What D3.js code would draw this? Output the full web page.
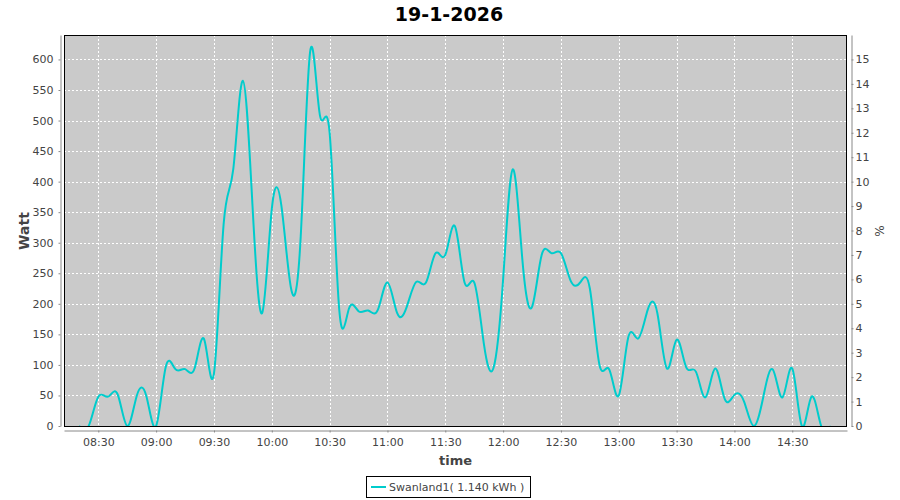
<!DOCTYPE html>
<html>
<head>
<meta charset="utf-8">
<script src="https://cdn.jsdelivr.net/npm/d3@7/dist/d3.min.js"></script>
<style>
  html, body { margin: 0; padding: 0; background: #ffffff; }
  svg { display: block; }
  text { font-family: "DejaVu Sans", sans-serif; }
</style>
</head>
<body>
<svg id="chart" width="900" height="500"></svg>
<script>
// ---- data ----
const chartTitle = "19-1-2026";
const seriesName = "Swanland1( 1.140 kWh )";
const times = ["08:20","08:25","08:30","08:35","08:40","08:45","08:50","08:55",
  "09:00","09:05","09:10","09:15","09:20","09:25","09:30","09:35","09:40","09:45","09:50","09:55",
  "10:00","10:05","10:10","10:15","10:20","10:25","10:30","10:35","10:40","10:45","10:50","10:55",
  "11:00","11:05","11:10","11:15","11:20","11:25","11:30","11:35","11:40","11:45","11:50","11:55",
  "12:00","12:05","12:10","12:15","12:20","12:25","12:30","12:35","12:40","12:45","12:50","12:55",
  "13:00","13:05","13:10","13:15","13:20","13:25","13:30","13:35","13:40","13:45","13:50","13:55",
  "14:00","14:05","14:10","14:15","14:20","14:25","14:30","14:35","14:40","14:45","14:50"];
const watts = [0,0,48,48,52,0,50,48,
  0,97,93,93,95,141,86,330,420,565,360,185,
  355,360,225,310,615,508,480,190,192,188,189,190,
  235,185,195,236,235,283,280,327,235,235,135,95,
  240,420,272,195,280,283,283,238,235,225,100,93,
  50,146,143,190,185,94,141,96,89,47,94,44,
  51,40,0,48,92,47,94,0,48,0,0];
const xTickLabels = ["08:30","09:00","09:30","10:00","10:30","11:00","11:30","12:00","12:30","13:00","13:30","14:00","14:30"];
const yTicksLeft = [0,50,100,150,200,250,300,350,400,450,500,550,600];
const yTicksRight = [0,1,2,3,4,5,6,7,8,9,10,11,12,13,14,15];
const xDomain = ["08:12:12","14:58:24"];
const yDomainLeft = [0, 640];
const yDomainRight = [0, 16];

// ---- layout ----
const plot = {left: 64, right: 847, top: 35, bottom: 426};
const parseT = d3.timeParse("%Y-%m-%d %H:%M");
const parseTs = d3.timeParse("%Y-%m-%d %H:%M:%S");
const day = "2026-01-19";
const data = times.map((t, i) => ({t: parseT(day + " " + t), v: watts[i]}));

const x = d3.scaleTime()
  .domain(xDomain.map(s => parseTs(day + " " + s)))
  .range([plot.left, plot.right]);
const y = d3.scaleLinear().domain(yDomainLeft).range([plot.bottom, plot.top]);
const yR = d3.scaleLinear().domain(yDomainRight).range([plot.bottom, plot.top]);
const xTicks = xTickLabels.map(s => parseT(day + " " + s));

const svg = d3.select("#chart");
svg.append("rect").attr("x",0).attr("y",0).attr("width",900).attr("height",500).attr("fill","#ffffff");

// title
svg.append("text")
  .attr("x", 449).attr("y", 21)
  .attr("text-anchor","middle")
  .attr("font-size", 19).attr("font-weight","bold")
  .attr("fill","#000")
  .text(chartTitle);

// plot background
svg.append("rect")
  .attr("x", plot.left).attr("y", plot.top)
  .attr("width", plot.right - plot.left).attr("height", plot.bottom - plot.top)
  .attr("fill", "#cacaca");

// gridlines
const grid = svg.append("g").attr("stroke","#ffffff").attr("stroke-width",1).attr("stroke-dasharray","2,2");
grid.selectAll("line.h").data(yTicksLeft.filter(d => d > 0)).join("line")
  .attr("x1", plot.left).attr("x2", plot.right)
  .attr("y1", d => Math.round(y(d)) + 0.5).attr("y2", d => Math.round(y(d)) + 0.5);
grid.selectAll("line.v").data(xTicks).join("line")
  .attr("y1", plot.top).attr("y2", plot.bottom)
  .attr("x1", d => Math.round(x(d)) + 0.5).attr("x2", d => Math.round(x(d)) + 0.5);

// clip
svg.append("clipPath").attr("id","clip").append("rect")
  .attr("x", plot.left).attr("y", plot.top)
  .attr("width", plot.right - plot.left).attr("height", plot.bottom - plot.top);

// line
const line = d3.line().x(d => x(d.t)).y(d => y(d.v)).curve(d3.curveNatural);
svg.append("path")
  .datum(data)
  .attr("clip-path","url(#clip)")
  .attr("fill","none")
  .attr("stroke","#00cccc")
  .attr("stroke-width",2)
  .attr("stroke-linejoin","round")
  .attr("d", line);

// plot border
svg.append("rect")
  .attr("x", plot.left + 0.5).attr("y", plot.top + 0.5)
  .attr("width", plot.right - plot.left - 1).attr("height", plot.bottom - plot.top)
  .attr("fill","none").attr("stroke","#000").attr("stroke-width",1);

// axes
function styleAxis(g) {
  g.select(".domain").attr("stroke","#888");
  g.selectAll(".tick line").attr("stroke","#888");
  g.selectAll(".tick text").attr("fill","#444").attr("font-size",11).attr("font-family","DejaVu Sans, sans-serif");
}
const gL = svg.append("g").attr("transform","translate(60.5,0)")
  .call(d3.axisLeft(y).tickValues(yTicksLeft).tickFormat(d3.format("d")).tickSize(2).tickSizeOuter(0).tickPadding(5));
styleAxis(gL);
const gR = svg.append("g").attr("transform","translate(851.5,0)")
  .call(d3.axisRight(yR).tickValues(yTicksRight).tickFormat(d3.format("d")).tickSize(2).tickSizeOuter(0).tickPadding(2));
styleAxis(gR);
const gB = svg.append("g").attr("transform","translate(0,430.5)")
  .call(d3.axisBottom(x).tickValues(xTicks).tickFormat(d3.timeFormat("%H:%M")).tickSize(2).tickSizeOuter(0).tickPadding(6));
styleAxis(gB);

// axis titles
svg.append("text")
  .attr("transform","translate(24,231) rotate(-90)")
  .attr("text-anchor","middle")
  .attr("font-size",14).attr("font-weight","bold").attr("fill","#444")
  .attr("dy","0.35em")
  .text("Watt");
svg.append("text")
  .attr("transform","translate(880,231) rotate(-90)")
  .attr("text-anchor","middle")
  .attr("font-size",12).attr("fill","#444")
  .attr("dy","0.35em")
  .text("%");
svg.append("text")
  .attr("x", 455.5).attr("y", 465)
  .attr("text-anchor","middle")
  .attr("font-size",13).attr("font-weight","bold").attr("fill","#444")
  .text("time");

// legend
const lg = svg.append("g");
lg.append("rect").attr("x",366.5).attr("y",476.5).attr("width",164).attr("height",21)
  .attr("fill","#fff").attr("stroke","#000").attr("stroke-width",1);
lg.append("line").attr("x1",371).attr("x2",386).attr("y1",487).attr("y2",487)
  .attr("stroke","#00cccc").attr("stroke-width",2);
lg.append("text").attr("x",389).attr("y",491).attr("font-size",11).attr("fill","#444").text(seriesName);
</script>
</body>
</html>
